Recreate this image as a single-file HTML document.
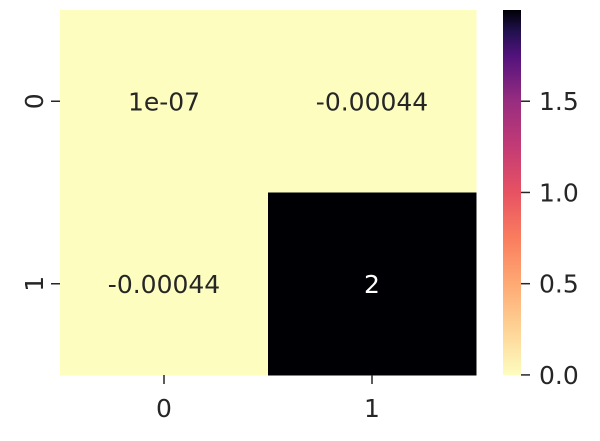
<!DOCTYPE html>
<html><head><meta charset="utf-8"><style>
body{margin:0;background:#fff;width:600px;height:436px;overflow:hidden}
svg{font-family:"DejaVu Sans","Liberation Sans",sans-serif}
</style></head><body>
<svg id="c" width="600" height="436">
<defs><linearGradient id="g" x1="0" y1="1" x2="0" y2="0">
<stop offset="0" stop-color="#fcfdbf"/><stop offset="0.125" stop-color="#fed395"/>
<stop offset="0.25" stop-color="#fea973"/><stop offset="0.375" stop-color="#fa7d5e"/>
<stop offset="0.5" stop-color="#e75263"/><stop offset="0.625" stop-color="#c33b75"/>
<stop offset="0.75" stop-color="#982d80"/><stop offset="0.875" stop-color="#51127c"/>
<stop offset="0.94" stop-color="#221150"/><stop offset="1" stop-color="#000004"/>
</linearGradient></defs>
</svg>
<script>
const rows=["0","1"];
const cols=["0","1"];
const values=[[1e-7,-0.00044],[-0.00044,2]];
const labels=["1e-07","-0.00044","-0.00044","2"];
const cbTicks=[0,0.5,1,1.5];
const cbTickLabels=["0.0","0.5","1.0","1.5"];
const vmin=-0.00044,vmax=2;
const NS="http://www.w3.org/2000/svg",svg=document.getElementById('c');
function mk(t,a,txt){const e=document.createElementNS(NS,t);for(const k in a)e.setAttribute(k,a[k]);if(txt!==undefined)e.textContent=txt;svg.appendChild(e);return e;}
const L=60,R=476,T=10,B=375,FS=25;
const cw=(R-L)/cols.length,ch=(B-T)/rows.length;
const stops=[[0,[252,253,191]],[0.125,[254,211,149]],[0.25,[254,169,115]],[0.375,[250,125,94]],[0.5,[231,82,99]],[0.625,[195,59,117]],[0.75,[152,45,128]],[0.875,[81,18,124]],[0.94,[34,17,80]],[1,[0,0,4]]];
function color(v){let t=(v-vmin)/(vmax-vmin);t=Math.max(0,Math.min(1,t));for(let i=1;i<stops.length;i++){if(t<=stops[i][0]){const a=stops[i-1],b=stops[i],f=(t-a[0])/(b[0]-a[0]);const c=a[1].map((x,j)=>Math.round(x+(b[1][j]-x)*f));return {c:`rgb(${c})`,t};}}return {c:'rgb(0,0,4)',t:1};}
const cbY=v=>B-(v-vmin)/(vmax-vmin)*(B-T);
rows.forEach((r,i)=>cols.forEach((cl,j)=>{
 const v=values[i][j],col=color(v);
 const rc=mk('rect',{x:L+j*cw,y:T+i*ch,width:cw+0.5,height:ch+0.5,fill:col.c});
 
 
 const tx=mk('text',{x:L+(j+0.5)*cw,y:T+(i+0.5)*ch+9,'text-anchor':'middle','font-size':FS,fill:col.t>0.5?'#fff':'#262626'},labels[i*cols.length+j]);
 
 
}));
rows.forEach((r,i)=>{const y=T+(i+0.5)*ch;
 const tk=mk('line',{x1:L-9,x2:L,y1:y,y2:y,stroke:'#262626','stroke-width':1.5});
 
 
 const t=mk('text',{x:0,y:0,transform:`translate(${L-17},${y}) rotate(-90)`,'text-anchor':'middle','font-size':FS,fill:'#262626'},r);
 
 });
cols.forEach((c,j)=>{const x=L+(j+0.5)*cw;
 const tk=mk('line',{x1:x,x2:x,y1:B,y2:B+9,stroke:'#262626','stroke-width':1.5});
 
 
 const t=mk('text',{x:x,y:B+42,'text-anchor':'middle','font-size':FS,fill:'#262626'},c);
 
 });
const cb=mk('rect',{x:503,y:T,width:18,height:B-T,fill:'url(#g)'});


cbTicks.forEach((v,k)=>{const y=cbY(v);
 const tk=mk('line',{x1:521,x2:530,y1:y,y2:y,stroke:'#262626','stroke-width':1.5});
 
 
 const t=mk('text',{x:539,y:y+9,'font-size':FS,fill:'#262626'},cbTickLabels[k]);
 
 });
</script>
</body></html>
